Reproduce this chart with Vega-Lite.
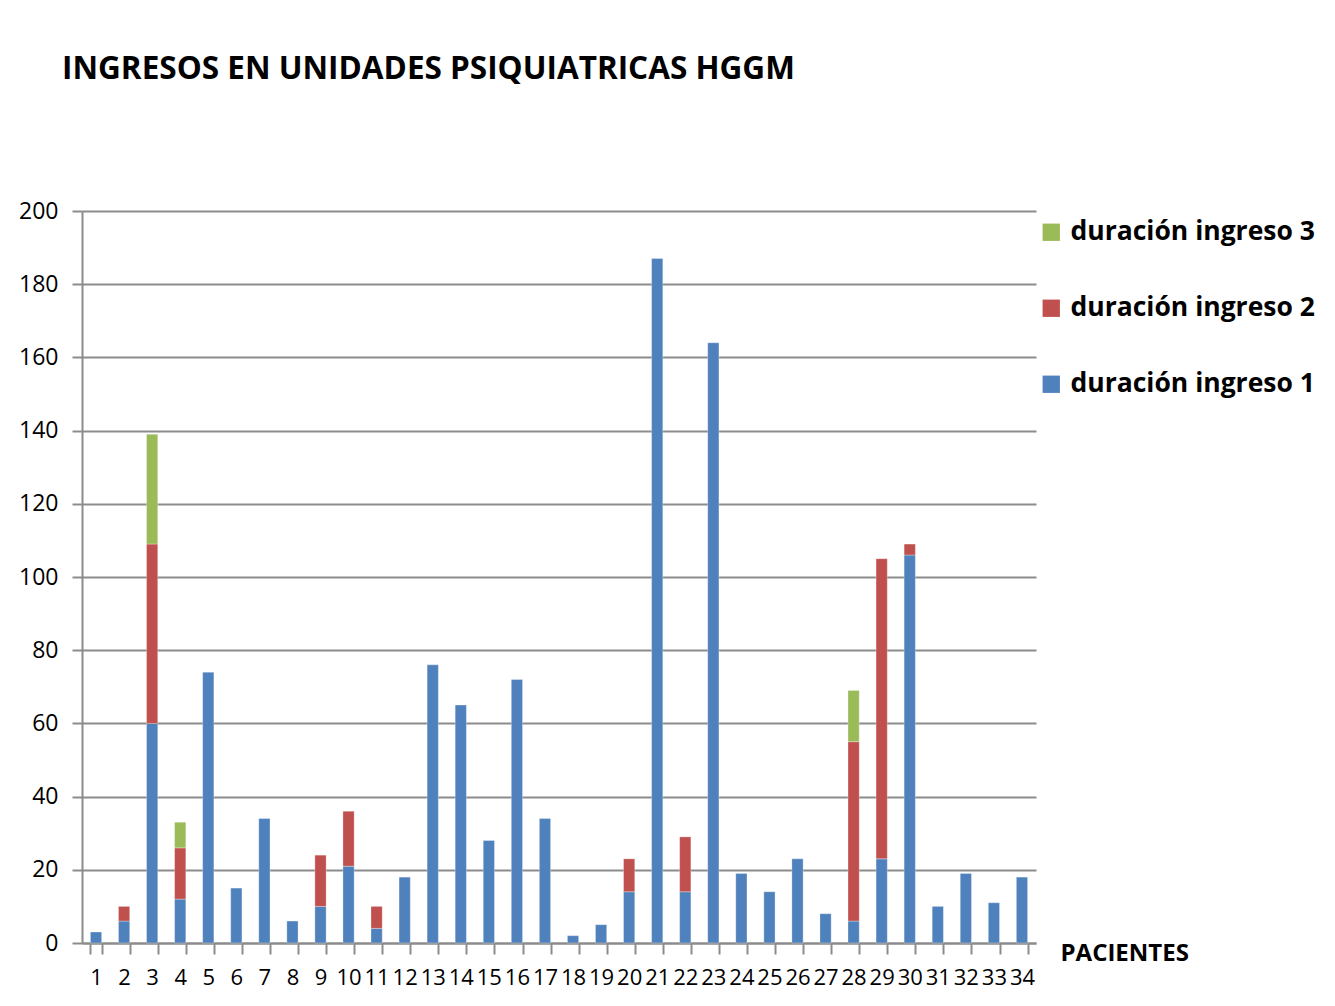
{
  "$schema": "https://vega.github.io/schema/vega-lite/v6.json",
  "width": 954,
  "height": 732,
  "autosize": "none",
  "padding": {"left": 82, "top": 211, "right": 299, "bottom": 63},
  "background": "white",
  "title": {
    "text": "INGRESOS EN UNIDADES PSIQUIATRICAS HGGM",
    "anchor": "start",
    "frame": "group",
    "dx": -20,
    "offset": 115,
    "font": "Open Sans",
    "fontSize": 31.5,
    "fontWeight": "bold",
    "color": "black"
  },
  "config": {
    "view": {"stroke": null},
    "font": "Open Sans"
  },
  "data": {
    "values": [
      {"paciente": 1, "serie": "duración ingreso 1", "valor": 3},
      {"paciente": 2, "serie": "duración ingreso 1", "valor": 6},
      {"paciente": 2, "serie": "duración ingreso 2", "valor": 4},
      {"paciente": 3, "serie": "duración ingreso 1", "valor": 60},
      {"paciente": 3, "serie": "duración ingreso 2", "valor": 49},
      {"paciente": 3, "serie": "duración ingreso 3", "valor": 30},
      {"paciente": 4, "serie": "duración ingreso 1", "valor": 12},
      {"paciente": 4, "serie": "duración ingreso 2", "valor": 14},
      {"paciente": 4, "serie": "duración ingreso 3", "valor": 7},
      {"paciente": 5, "serie": "duración ingreso 1", "valor": 74},
      {"paciente": 6, "serie": "duración ingreso 1", "valor": 15},
      {"paciente": 7, "serie": "duración ingreso 1", "valor": 34},
      {"paciente": 8, "serie": "duración ingreso 1", "valor": 6},
      {"paciente": 9, "serie": "duración ingreso 1", "valor": 10},
      {"paciente": 9, "serie": "duración ingreso 2", "valor": 14},
      {"paciente": 10, "serie": "duración ingreso 1", "valor": 21},
      {"paciente": 10, "serie": "duración ingreso 2", "valor": 15},
      {"paciente": 11, "serie": "duración ingreso 1", "valor": 4},
      {"paciente": 11, "serie": "duración ingreso 2", "valor": 6},
      {"paciente": 12, "serie": "duración ingreso 1", "valor": 18},
      {"paciente": 13, "serie": "duración ingreso 1", "valor": 76},
      {"paciente": 14, "serie": "duración ingreso 1", "valor": 65},
      {"paciente": 15, "serie": "duración ingreso 1", "valor": 28},
      {"paciente": 16, "serie": "duración ingreso 1", "valor": 72},
      {"paciente": 17, "serie": "duración ingreso 1", "valor": 34},
      {"paciente": 18, "serie": "duración ingreso 1", "valor": 2},
      {"paciente": 19, "serie": "duración ingreso 1", "valor": 5},
      {"paciente": 20, "serie": "duración ingreso 1", "valor": 14},
      {"paciente": 20, "serie": "duración ingreso 2", "valor": 9},
      {"paciente": 21, "serie": "duración ingreso 1", "valor": 187},
      {"paciente": 22, "serie": "duración ingreso 1", "valor": 14},
      {"paciente": 22, "serie": "duración ingreso 2", "valor": 15},
      {"paciente": 23, "serie": "duración ingreso 1", "valor": 164},
      {"paciente": 24, "serie": "duración ingreso 1", "valor": 19},
      {"paciente": 25, "serie": "duración ingreso 1", "valor": 14},
      {"paciente": 26, "serie": "duración ingreso 1", "valor": 23},
      {"paciente": 27, "serie": "duración ingreso 1", "valor": 8},
      {"paciente": 28, "serie": "duración ingreso 1", "valor": 6},
      {"paciente": 28, "serie": "duración ingreso 2", "valor": 49},
      {"paciente": 28, "serie": "duración ingreso 3", "valor": 14},
      {"paciente": 29, "serie": "duración ingreso 1", "valor": 23},
      {"paciente": 29, "serie": "duración ingreso 2", "valor": 82},
      {"paciente": 30, "serie": "duración ingreso 1", "valor": 106},
      {"paciente": 30, "serie": "duración ingreso 2", "valor": 3},
      {"paciente": 31, "serie": "duración ingreso 1", "valor": 10},
      {"paciente": 32, "serie": "duración ingreso 1", "valor": 19},
      {"paciente": 33, "serie": "duración ingreso 1", "valor": 11},
      {"paciente": 34, "serie": "duración ingreso 1", "valor": 18}
    ]
  },
  "mark": {"type": "bar", "stroke": "white", "strokeWidth": 0.5, "strokeOpacity": 0.6},
  "encoding": {
    "x": {
      "field": "paciente",
      "type": "ordinal",
      "scale": {"paddingInner": 0.6, "paddingOuter": 0.3},
      "axis": {
        "title": "PACIENTES",
        "titleX": 978,
        "titleY": 10,
        "titleAlign": "left",
        "titleBaseline": "middle",
        "titleFont": "Open Sans",
        "titleFontSize": 24,
        "titleFontWeight": "bold",
        "titleColor": "black",
        "labelAngle": 0,
        "labelFont": "Open Sans",
        "labelFontSize": 22,
        "labelColor": "black",
        "labelPadding": 13,
        "labelOverlap": false,
        "labelBound": false,
        "tickBand": "extent",
        "tickSize": 11,
        "tickColor": "#8c8c8c",
        "tickWidth": 2,
        "domainColor": "#8c8c8c",
        "domainWidth": 2,
        "grid": false
      }
    },
    "y": {
      "field": "valor",
      "type": "quantitative",
      "aggregate": "sum",
      "stack": "zero",
      "scale": {"domain": [0, 200], "nice": false},
      "axis": {
        "title": null,
        "values": [0, 20, 40, 60, 80, 100, 120, 140, 160, 180, 200],
        "labelFont": "Open Sans",
        "labelFontSize": 23,
        "labelColor": "black",
        "labelPadding": 14,
        "tickSize": 10,
        "tickColor": "#8c8c8c",
        "tickWidth": 2,
        "domainColor": "#8c8c8c",
        "domainWidth": 2,
        "grid": true,
        "gridColor": "#8c8c8c",
        "gridWidth": 2
      }
    },
    "color": {
      "field": "serie",
      "type": "nominal",
      "scale": {
        "domain": ["duración ingreso 3", "duración ingreso 2", "duración ingreso 1"],
        "range": ["#9BBB59", "#C0504D", "#4F81BD"]
      },
      "legend": {
        "title": null,
        "orient": "none",
        "legendX": 956,
        "legendY": 8,
        "symbolType": "square",
        "symbolSize": 300,
        "symbolStrokeWidth": 0,
        "labelFont": "Open Sans",
        "labelFontSize": 26.5,
        "labelFontWeight": "bold",
        "labelColor": "black",
        "labelOffset": 6,
        "rowPadding": 49,
        "labelLimit": 400
      }
    },
    "order": {"field": "serie", "type": "nominal", "sort": "ascending"}
  }
}
